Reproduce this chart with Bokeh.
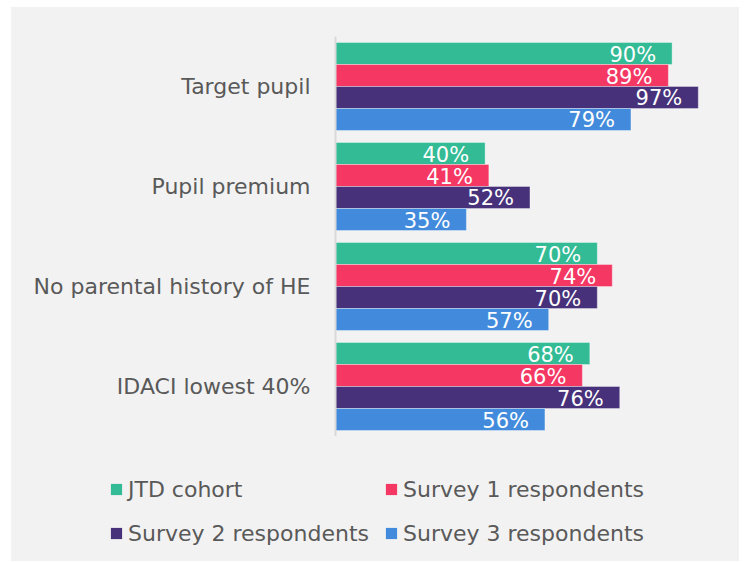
from bokeh.plotting import figure
from bokeh.layouts import column
from bokeh.models import Range1d, FactorRange, Legend, LegendItem, ColumnDataSource
from bokeh.transform import dodge
from bokeh.embed import file_html
from bokeh.resources import INLINE
from bokeh.core.properties import value

categories = ["Target pupil", "Pupil premium", "No parental history of HE", "IDACI lowest 40%"]
series = ["JTD cohort", "Survey 1 respondents", "Survey 2 respondents", "Survey 3 respondents"]
jtd_cohort = [90, 40, 70, 68]
survey_1 = [89, 41, 74, 66]
survey_2 = [97, 52, 70, 76]
survey_3 = [79, 35, 57, 56]
colors = ["#33BB95", "#F43763", "#47317A", "#428BDC"]

FONT = "DejaVu Sans"
TEXT_COLOR = "#595959"
BG = "#f2f2f2"

p = figure(width=728, height=429,
           y_range=FactorRange(*reversed(categories)),
           x_range=Range1d(0, 100),
           x_axis_location=None,
           output_backend="svg", toolbar_location=None,
           min_border_left=324, min_border_right=30,
           min_border_top=29, min_border_bottom=0,
           frame_align=False)

p.background_fill_color = BG
p.border_fill_color = BG
p.outline_line_color = None
p.xgrid.grid_line_color = None
p.ygrid.grid_line_color = None

p.yaxis.axis_line_color = "#d9d9d9"
p.yaxis.axis_line_width = 2
p.yaxis.major_tick_line_color = None
p.yaxis.minor_tick_line_color = None
p.yaxis.major_label_text_font = FONT
p.yaxis.major_label_text_font_size = "22px"
p.yaxis.major_label_text_color = TEXT_COLOR
p.yaxis.major_label_standoff = 19

# legend strip below the chart
lf = figure(width=728, height=125,
            y_range=FactorRange(*reversed(categories)),
            x_range=Range1d(-1000, -999),
            x_axis_location=None, y_axis_location=None,
            output_backend="svg", toolbar_location=None,
            min_border_left=0, min_border_right=0,
            min_border_top=0, min_border_bottom=0,
            frame_align=False)
lf.background_fill_color = BG
lf.border_fill_color = BG
lf.outline_line_color = None
lf.xgrid.grid_line_color = None
lf.ygrid.grid_line_color = None

all_values = [jtd_cohort, survey_1, survey_2, survey_3]
offsets = [0.33, 0.11, -0.11, -0.33]
legend_locs = [(98, 59), (373, 59), (98, 15), (373, 15)]

for name, vals, col, off, loc in zip(series, all_values, colors, offsets, legend_locs):
    src = ColumnDataSource(dict(cat=categories, val=vals, lbl=[f"{v}%" for v in vals]))
    p.hbar(y=dodge("cat", off, range=p.y_range), right="val", left=0, height=0.22,
           source=src, fill_color=col, line_color="white", line_alpha=0.35, line_width=1)
    p.text(x="val", y=dodge("cat", off, range=p.y_range), text="lbl", source=src,
           text_align="right", text_baseline="middle", x_offset=-16, y_offset=1,
           text_color="white", text_font=value(FONT), text_font_size="21px")
    r = lf.hbar(y=dodge("cat", off, range=lf.y_range), right="val", left=0, height=0.22,
                source=src, fill_color=col, line_color=None)
    leg = Legend(items=[LegendItem(label=name, renderers=[r])], location=loc,
                 padding=0, margin=0, spacing=0, border_line_color=None,
                 background_fill_alpha=0, glyph_width=14, glyph_height=14,
                 label_height=26,
                 label_standoff=5, label_text_font=FONT, label_text_font_size="22px",
                 label_text_color=TEXT_COLOR)
    lf.add_layout(leg)

layout = column(p, lf, spacing=0, margin=(7, 0, 0, 11))
layout.styles = {"background-color": BG}
open("out.html", "w").write(file_html(layout, INLINE))
